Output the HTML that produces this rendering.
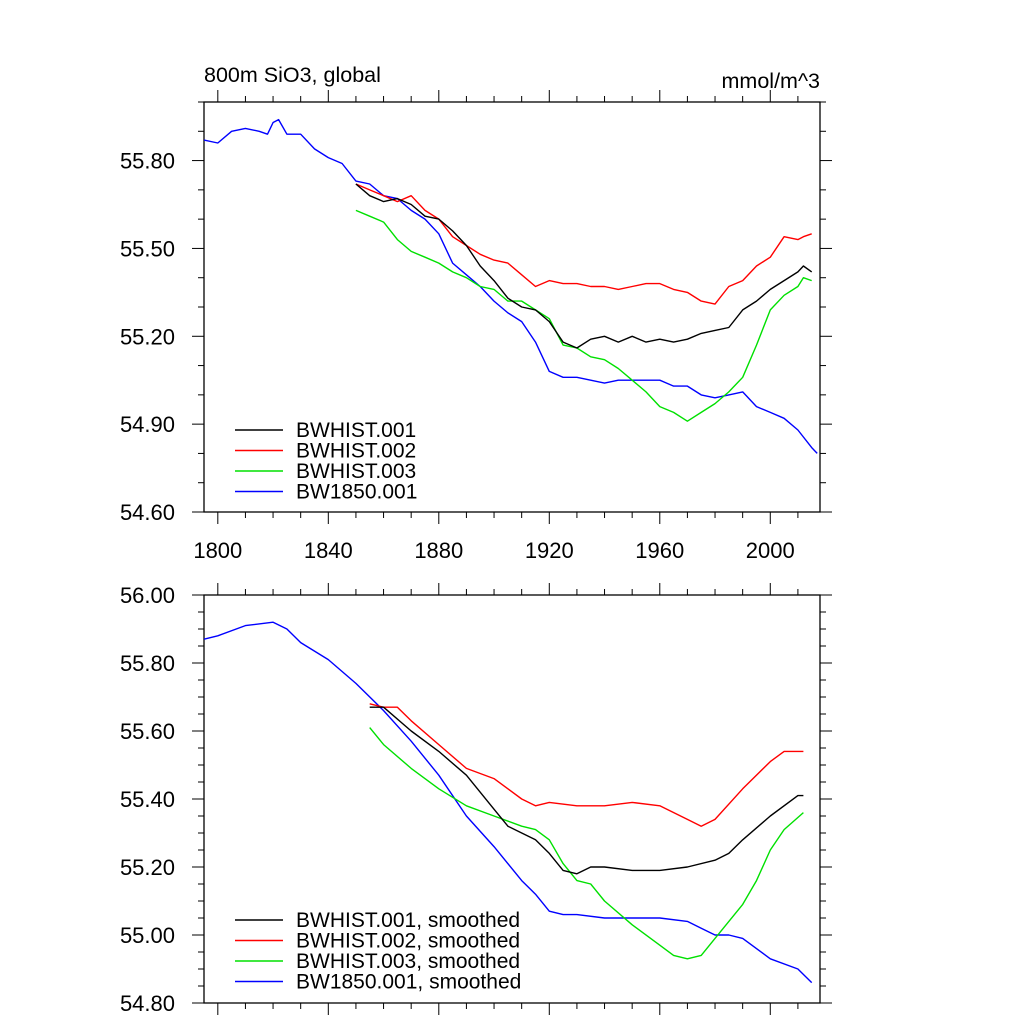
<!DOCTYPE html>
<html><head><meta charset="utf-8"><style>
body{margin:0;background:#fff;}
svg{display:block;font-family:"Liberation Sans",sans-serif;}
</style></head><body>
<svg id="chart" width="1024" height="1024" viewBox="0 0 1024 1024">
<g id="g"></g>
</svg>
<script>
const topYears=[1850,1855,1860,1865,1870,1875,1880,1885,1890,1895,1900,1905,1910,1915,1920,1925,1930,1935,1940,1945,1950,1955,1960,1965,1970,1975,1980,1985,1990,1995,2000,2005,2010,2012,2015];
const topBlack=[55.72,55.68,55.66,55.67,55.65,55.61,55.60,55.56,55.51,55.44,55.39,55.33,55.30,55.29,55.25,55.18,55.16,55.19,55.20,55.18,55.20,55.18,55.19,55.18,55.19,55.21,55.22,55.23,55.29,55.32,55.36,55.39,55.42,55.44,55.42];
const topRed=[55.72,55.70,55.68,55.66,55.68,55.63,55.60,55.54,55.51,55.48,55.46,55.45,55.41,55.37,55.39,55.38,55.38,55.37,55.37,55.36,55.37,55.38,55.38,55.36,55.35,55.32,55.31,55.37,55.39,55.44,55.47,55.54,55.53,55.54,55.55];
const topGreen=[55.63,55.61,55.59,55.53,55.49,55.47,55.45,55.42,55.40,55.37,55.36,55.32,55.32,55.29,55.26,55.17,55.16,55.13,55.12,55.09,55.05,55.01,54.96,54.94,54.91,54.94,54.97,55.01,55.06,55.17,55.29,55.34,55.37,55.40,55.39];
const blueYears=[1795,1800,1805,1810,1815,1818,1820,1822,1825,1830,1835,1840,1845,1850,1855,1860,1865,1870,1875,1880,1885,1890,1895,1900,1905,1910,1915,1920,1925,1930,1935,1940,1945,1950,1955,1960,1965,1970,1975,1980,1985,1990,1995,2000,2005,2010,2015,2017];
const topBlue=[55.87,55.86,55.90,55.91,55.90,55.89,55.93,55.94,55.89,55.89,55.84,55.81,55.79,55.73,55.72,55.68,55.67,55.63,55.60,55.55,55.45,55.41,55.37,55.32,55.28,55.25,55.18,55.08,55.06,55.06,55.05,55.04,55.05,55.05,55.05,55.05,55.03,55.03,55.00,54.99,55.00,55.01,54.96,54.94,54.92,54.88,54.82,54.80];

const smBlueYears=[1795,1800,1810,1820,1825,1830,1840,1850,1860,1870,1880,1890,1900,1910,1915,1920,1925,1930,1940,1950,1960,1970,1975,1980,1985,1990,2000,2010,2015];
const smBlue=[55.87,55.88,55.91,55.92,55.90,55.86,55.81,55.74,55.66,55.57,55.47,55.35,55.26,55.16,55.12,55.07,55.06,55.06,55.05,55.05,55.05,55.04,55.02,55.00,55.00,54.99,54.93,54.90,54.86];
const smBlackYears=[1855,1860,1870,1880,1890,1900,1905,1910,1915,1920,1925,1930,1935,1940,1950,1960,1970,1980,1985,1990,2000,2010,2012];
const smBlack=[55.67,55.67,55.60,55.54,55.47,55.37,55.32,55.30,55.28,55.24,55.19,55.18,55.20,55.20,55.19,55.19,55.20,55.22,55.24,55.28,55.35,55.41,55.41];
const smRedYears=[1855,1860,1865,1870,1880,1890,1900,1910,1915,1920,1930,1940,1950,1960,1970,1975,1980,1990,2000,2005,2012];
const smRed=[55.68,55.67,55.67,55.63,55.56,55.49,55.46,55.40,55.38,55.39,55.38,55.38,55.39,55.38,55.34,55.32,55.34,55.43,55.51,55.54,55.54];
const smGreenYears=[1855,1860,1870,1880,1890,1900,1910,1915,1920,1925,1930,1935,1940,1950,1960,1965,1970,1975,1980,1990,1995,2000,2005,2012];
const smGreen=[55.61,55.56,55.49,55.43,55.38,55.35,55.32,55.31,55.28,55.21,55.16,55.15,55.10,55.03,54.97,54.94,54.93,54.94,54.99,55.09,55.16,55.25,55.31,55.36];

const topTicks=["54.60","54.90","55.20","55.50","55.80"];
const botTicks=["54.80","55.00","55.20","55.40","55.60","55.80","56.00"];
const xTicks=["1800","1840","1880","1920","1960","2000"];

const NS="http://www.w3.org/2000/svg";
const g=document.getElementById('g');
const L=204,R=820;
const X=y=>L+(y-1795)/(2018-1795)*(R-L);
function mk(t,a,txt){const e=document.createElementNS(NS,t);for(const k in a)e.setAttribute(k,a[k]);if(txt!==undefined)e.textContent=txt;g.appendChild(e);return e;}
function panel(top,bot,ymin,ymax,major,minor,labels,name){
  const Y=v=>bot-(v-ymin)/(ymax-ymin)*(bot-top);
  const fr=mk('rect',{x:L,y:top,width:R-L,height:bot-top,fill:'none',stroke:'#000','stroke-width':1.3});
  
  
  const n=Math.round((ymax-ymin)/minor);
  for(let i=0;i<=n;i++){const v=ymin+i*minor;const isM=Math.abs(((v-ymin)/major)-Math.round((v-ymin)/major))<1e-6;const len=isM?12:6;const y=Y(v);
    mk('line',{x1:L-len,x2:L,y1:y,y2:y,stroke:'#000','stroke-width':1});
    mk('line',{x1:R,x2:R+len,y1:y,y2:y,stroke:'#000','stroke-width':1});}
  labels.forEach(s=>{const t=mk('text',{x:L-29,y:Y(parseFloat(s))+8,'text-anchor':'end','font-size':22},s);
    
    });
  for(let yr=1800;yr<=2010;yr+=10){const len=(yr%40==0)?12:6;const x=X(yr);
    mk('line',{x1:x,x2:x,y1:bot,y2:bot+len,stroke:'#000','stroke-width':1});
    mk('line',{x1:x,x2:x,y1:top-len,y2:top,stroke:'#000','stroke-width':1});}
  return Y;
}
function line(xs,vs,Y,col,name){const d=xs.map((yr,i)=>(i?'L':'M')+X(yr).toFixed(1)+','+Y(vs[i]).toFixed(1)).join('');
  const p=mk('path',{d:d,fill:'none',stroke:col,'stroke-width':1.4,'stroke-linejoin':'round'});
  
  }
function legend(items,y0,dy,fs){items.forEach((it,i)=>{const y=y0+i*dy;
  mk('line',{x1:235,x2:283,y1:y,y2:y,stroke:it[1],'stroke-width':1.4});
  const t=mk('text',{x:296,y:y+7,'font-size':fs},it[0]);
  
  });}

const Y1=panel(102,512,54.6,56.0,0.3,0.1,topTicks,'top-panel');
line(blueYears,topBlue,Y1,'#0000ff','top-bw1850-001');
line(topYears,topGreen,Y1,'#00e000','top-bwhist-003');
line(topYears,topRed,Y1,'#ff0000','top-bwhist-002');
line(topYears,topBlack,Y1,'#000','top-bwhist-001');
xTicks.forEach(s=>{const t=mk('text',{x:X(+s),y:558,'text-anchor':'middle','font-size':22},s);
  
  });
legend([['BWHIST.001','#000'],['BWHIST.002','#ff0000'],['BWHIST.003','#00e000'],['BW1850.001','#0000ff']],430,20.5,21);
const t1=mk('text',{x:204,y:82,'font-size':21.5},'800m SiO3, global');


const t2=mk('text',{x:820,y:88,'font-size':21.5,'text-anchor':'end'},'mmol/m^3');



const Y2=panel(595,1003,54.8,56.0,0.2,0.05,botTicks,'bottom-panel');
line(smBlueYears,smBlue,Y2,'#0000ff','smoothed-bw1850-001');
line(smGreenYears,smGreen,Y2,'#00e000','smoothed-bwhist-003');
line(smRedYears,smRed,Y2,'#ff0000','smoothed-bwhist-002');
line(smBlackYears,smBlack,Y2,'#000','smoothed-bwhist-001');
legend([['BWHIST.001, smoothed','#000'],['BWHIST.002, smoothed','#ff0000'],['BWHIST.003, smoothed','#00e000'],['BW1850.001, smoothed','#0000ff']],920,20.5,21);
</script>
</body></html>
